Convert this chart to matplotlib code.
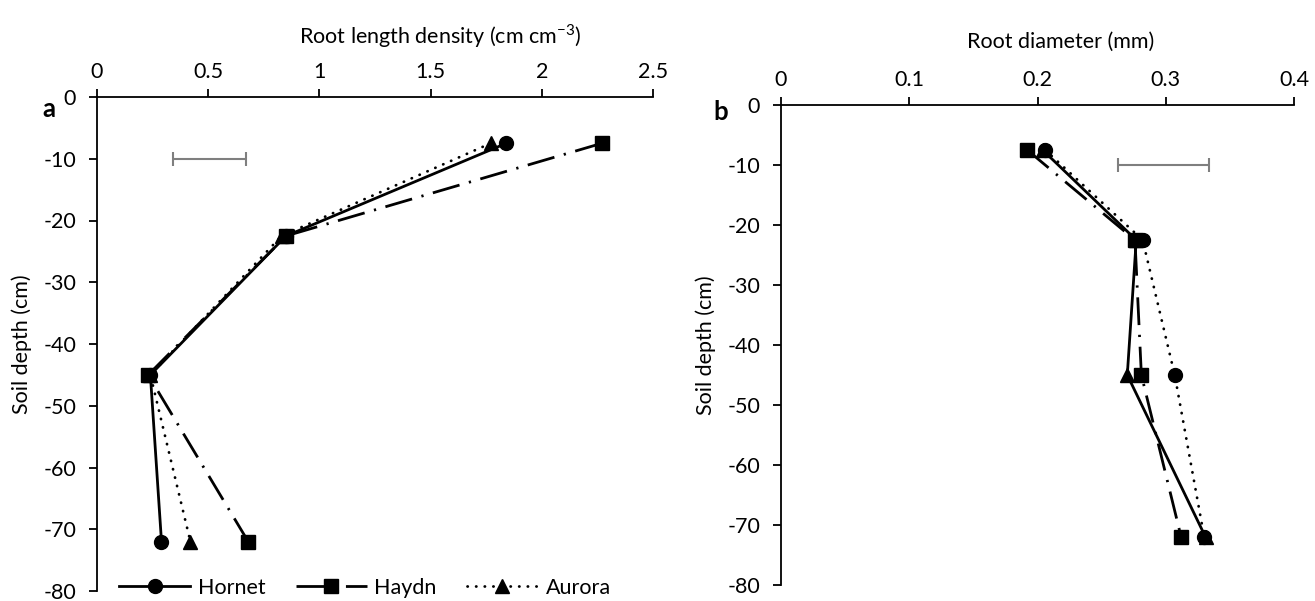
import matplotlib
matplotlib.use("Agg")
import matplotlib.pyplot as plt
from matplotlib.lines import Line2D

plt.rcParams["font.family"] = ["Lato", "DejaVu Sans"]
plt.rcParams["mathtext.fontset"] = "custom"
plt.rcParams["mathtext.rm"] = "Lato"
plt.rcParams["axes.unicode_minus"] = False

# depths (cm)
depth = [-7.5, -22.5, -45, -72]

# a: root length density (cm cm-3)
rld_hornet = [1.84, 0.85, 0.24, 0.29]
rld_haydn = [2.27, 0.85, 0.23, 0.68]
rld_aurora = [1.77, 0.83, 0.24, 0.42]
rld_bar = (0.34, 0.67)   # LSD bar at -10 cm

# b: root diameter (mm)
dia_solid = [0.204, 0.277, 0.270, 0.331]
dia_dashdot = [0.192, 0.276, 0.281, 0.312]
dia_dotted = [0.206, 0.282, 0.307, 0.330]
dia_bar = (0.263, 0.334)
bar_depth = -10

W, H = 1315, 601
FS = 15.5
fig = plt.figure(figsize=(W / 100, H / 100), dpi=100)


def px_axes(l, t, r, b):
    return fig.add_axes([l / W, 1 - b / H, (r - l) / W, (b - t) / H])


ax_a = px_axes(97, 97, 653, 591)
ax_b = px_axes(781, 105, 1294, 585)

LW = 2.0
DASHDOT = (0, (10, 3.5, 0.8, 3.5))
DOTTED = (0, (0.1, 3))
MS = 10


def style_axes(ax, xmax, xstep):
    for s in ("right", "bottom"):
        ax.spines[s].set_visible(False)
    for s in ("left", "top"):
        ax.spines[s].set_linewidth(1.3)
    ax.xaxis.tick_top()
    ax.set_xlim(0, xmax)
    ax.set_ylim(-80, 0)
    n = int(round(xmax / xstep))
    ax.set_xticks([i * xstep for i in range(n + 1)])
    ax.set_xticklabels([f"{i * xstep:g}" for i in range(n + 1)])
    ax.set_yticks(range(-80, 1, 10))
    ax.tick_params(axis="both", direction="out", length=6, width=1.3,
                   labelsize=FS)
    ax.tick_params(axis="y", pad=9)
    ax.tick_params(axis="x", pad=5)
    ax.patch.set_alpha(0)


def draw(ax, x, ls, marker):
    kw = dict(color="black", lw=LW, marker=marker, ms=MS, clip_on=False)
    if ls == "dotted":
        ax.plot(x, depth, linestyle=DOTTED, dash_capstyle="round", **kw)
    elif ls == "dashdot":
        ax.plot(x, depth, linestyle=DASHDOT, **kw)
    else:
        ax.plot(x, depth, linestyle="-", **kw)


def lsd_bar(ax, span):
    c = (span[0] + span[1]) / 2
    ax.errorbar([c], [bar_depth], xerr=[[c - span[0]], [span[1] - c]],
                fmt="none", ecolor="#7f7f7f", elinewidth=1.5, capsize=4.7,
                capthick=1.5)


def ftext(x, y, s, **kw):
    fig.text(x / W, 1 - y / H, s, ha="center", va="center", **kw)


# panel a
style_axes(ax_a, 2.5, 0.5)
draw(ax_a, rld_haydn, "dashdot", "s")
draw(ax_a, rld_aurora, "dotted", "^")
draw(ax_a, rld_hornet, "solid", "o")
lsd_bar(ax_a, rld_bar)
ftext(440, 36, r"Root length density (cm cm$^{\mathregular{-3}}$)", fontsize=FS)
ftext(22, 344, "Soil depth (cm)", fontsize=FS, rotation=90)
ftext(49, 109, "a", fontsize=FS + 3, fontweight="bold")

# panel b
style_axes(ax_b, 0.4, 0.1)
draw(ax_b, dia_dashdot, "dashdot", "s")
draw(ax_b, dia_dotted, "dotted", "o")
draw(ax_b, dia_solid, "solid", "^")
lsd_bar(ax_b, dia_bar)
ftext(1061, 42, "Root diameter (mm)", fontsize=FS)
ftext(706, 345, "Soil depth (cm)", fontsize=FS, rotation=90)
ftext(721, 112, "b", fontsize=FS + 3, fontweight="bold")

handles = [
    Line2D([], [], color="black", lw=LW, marker="o", ms=MS),
    Line2D([], [], color="black", lw=LW, marker="s", ms=MS, linestyle=DASHDOT),
    Line2D([], [], color="black", lw=LW, marker="^", ms=MS, linestyle=DOTTED,
           dash_capstyle="round"),
]
fig.legend(handles, ["Hornet", "Haydn", "Aurora"], loc="center",
           bbox_to_anchor=(365 / W, 1 - 588 / H), ncol=3, frameon=False,
           fontsize=FS, handlelength=3.3, handletextpad=0.35,
           columnspacing=1.4, numpoints=1, borderpad=0)

fig.savefig("out.png", dpi=100)
